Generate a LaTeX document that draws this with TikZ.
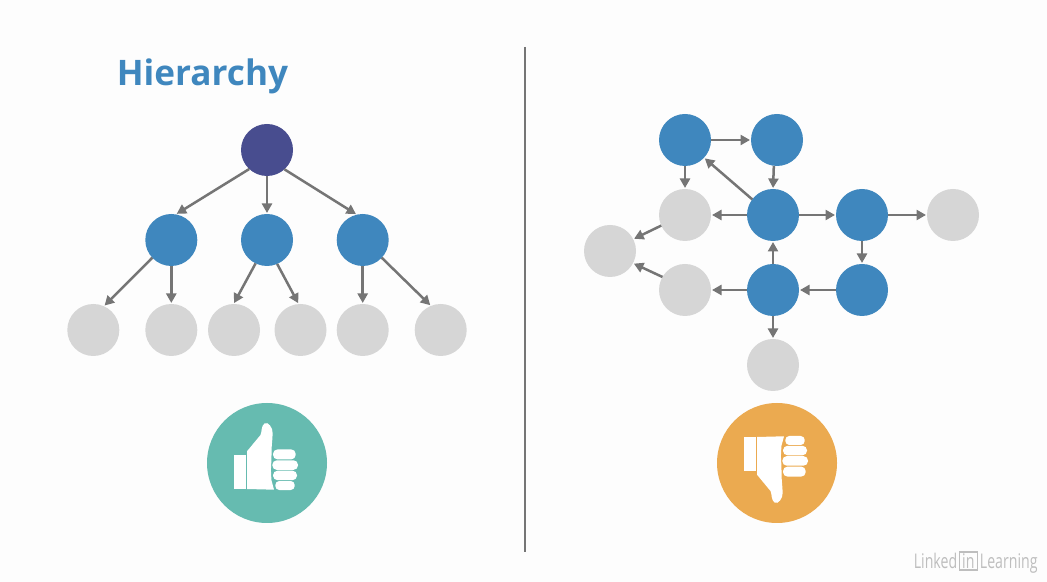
\documentclass[tikz,border=0pt]{standalone}
\usepackage{fontspec}
\setmainfont{Open Sans}
\newfontfamily\markfont[FakeStretch=0.7]{Open Sans}
\usepackage{xcolor}
\usepackage{tikz}
\usetikzlibrary{arrows.meta,positioning}

\definecolor{pagebg}{HTML}{FDFDFD}
\definecolor{rootblue}{HTML}{484D8F}
\definecolor{midblue}{HTML}{3F87BE}
\definecolor{leafgray}{HTML}{D6D6D6}
\definecolor{linkgray}{HTML}{757575}
\definecolor{goodteal}{HTML}{66BBB0}
\definecolor{badorange}{HTML}{EBAA50}
\definecolor{markgray}{HTML}{BEBEBE}

\tikzset{
  pics/thumbicon/.style={code={
    \fill[white] (-33.3,-7.7) rectangle (-21.3,26);
    \fill[white] (-20,26) -- (-20,-11.7) -- (-6.5,-28)
      .. controls (-5,-31) and (-6,-37) .. (-2.5,-39.5)
      .. controls (1,-42) and (6,-35) .. (5.6,-30)
      .. controls (5.6,-24) and (4.6,-18) .. (4.6,-13)
      -- (4.4,-3) -- (3.9,7) -- (4.4,17) -- (7,26.7) -- cycle;
    \fill[white, rounded corners=0.09cm] (6,-13.6) rectangle (28.7,-3.6);
    \fill[white, rounded corners=0.09cm] (5.3,-2.7) rectangle (31,6.9);
    \fill[white, rounded corners=0.09cm] (6,7.7) rectangle (30,17.2);
    \fill[white, rounded corners=0.08cm] (8.3,18) rectangle (27.7,27);
  }}
}

\begin{document}
\begin{tikzpicture}[
  node distance=0.76cm and 0.874cm,
  dot/.style={circle, minimum size=1.04cm, inner sep=0pt, outer sep=0pt},
  topdot/.style={dot, fill=rootblue},
  middot/.style={dot, fill=midblue},
  leafdot/.style={dot, fill=leafgray},
  link/.style={-{Triangle[length=0.19cm,width=0.2cm]}, line width=0.05cm,
               draw=linkgray, shorten >=0.02cm},
  thumbdot/.style={circle, minimum size=2.4cm, inner sep=0pt, outer sep=0pt},
  markword/.style={anchor=base west, inner sep=0pt, text=markgray,
                   font=\markfont\fontsize{11.5}{12}\selectfont},
]
  \useasboundingbox (0,0) rectangle (20.94,11.64);
  \fill[pagebg] (0,0) rectangle (20.94,11.64);

  % Title
  \node[text=midblue, font=\fontsize{20}{24}\selectfont\bfseries] (title) at (4.05,10.11) {Hierarchy};

  % Divider
  \coordinate (divtop) at (10.5,10.7);
  \coordinate (divbot) at (10.5,0.6);
  \draw[line width=0.04cm, draw=linkgray] (divtop) -- (divbot);

  % Hierarchy tree
  \node[topdot] (root) at (5.34,8.64) {};
  \node[middot, below=of root] (mid2) {};
  \node[middot, left=of mid2] (mid1) {};
  \node[middot, right=of mid2] (mid3) {};
  \node[leafdot, below=of mid1] (leaf2) {};
  \node[leafdot, left=0.52cm of leaf2] (leaf1) {};
  \node[leafdot, right=0.214cm of leaf2] (leaf3) {};
  \node[leafdot, right=0.29cm of leaf3] (leaf4) {};
  \node[leafdot, below=of mid3] (leaf5) {};
  \node[leafdot, right=0.52cm of leaf5] (leaf6) {};

  \draw[link] (root.227) -- (mid1.80);
  \draw[link] (root) -- (mid2);
  \draw[link] (root.312) -- (mid3.103);
  \draw[link] (mid1.223) -- (leaf1.66);
  \draw[link] (mid1) -- (leaf2);
  \draw[link] (mid2.244) -- (leaf3.91);
  \draw[link] (mid2.293) -- (leaf4.94);
  \draw[link] (mid3) -- (leaf5);
  \draw[link] (mid3.317) -- (leaf6.112);

  % Tangled network
  \node[middot] (netA) at (13.70,8.84) {};
  \node[middot, right=0.80cm of netA] (netB) {};
  \node[leafdot, below=0.46cm of netA] (netD) {};
  \node[middot, right=0.72cm of netD] (netC) {};
  \node[leafdot, below=0.46cm of netD] (netF) {};
  \node[leafdot] (netE) at ([shift={(-1.5,-0.72)}]netD) {};
  \node[middot, below=0.46cm of netC] (netG) {};
  \node[middot, right=0.74cm of netC] (netI) {};
  \node[leafdot, right=0.78cm of netI] (netJ) {};
  \node[middot, below=0.46cm of netI] (netH) {};
  \node[leafdot, below=0.46cm of netG] (netK) {};

  \draw[link] (netA) -- (netB);
  \draw[link] (netA) -- (netD);
  \draw[link] (netB.263) -- (netC.north);
  \draw[link] (netC.143) -- (netA.317);
  \draw[link] (netC) -- (netD);
  \draw[link] (netC) -- (netI);
  \draw[link] (netI) -- (netJ);
  \draw[link] (netI) -- (netH);
  \draw[link] (netH) -- (netG);
  \draw[link] (netG) -- (netC);
  \draw[link] (netG) -- (netF);
  \draw[link] (netG) -- (netK);
  \draw[link] (netD.204) -- (netE.27);
  \draw[link] (netF.150) -- (netE.-28);

  % Thumbs
  \node[thumbdot, fill=goodteal] (likeicon) at (5.34,2.38) {};
  \node[thumbdot, fill=badorange] (dislikeicon) at (15.54,2.38) {};
  \pic[x=0.02cm, y=-0.02cm] at (likeicon) {thumbicon};
  \pic[x=0.02cm, y=0.02cm] at (dislikeicon) {thumbicon};

  % Watermark
  \node[markword] (linked) at (18.27,0.27) {Linked};
  \node[draw=markgray, line width=0.03cm, text=markgray, inner sep=0pt, minimum width=0.36cm,
        minimum height=0.36cm, font=\markfont\fontsize{11.5}{12}\selectfont, right=0.02cm of linked] (inbox) {in};
  \node[markword] (learning) at ([xshift=0.03cm]inbox.east |- linked.base) {Learning};
\end{tikzpicture}
\end{document}
